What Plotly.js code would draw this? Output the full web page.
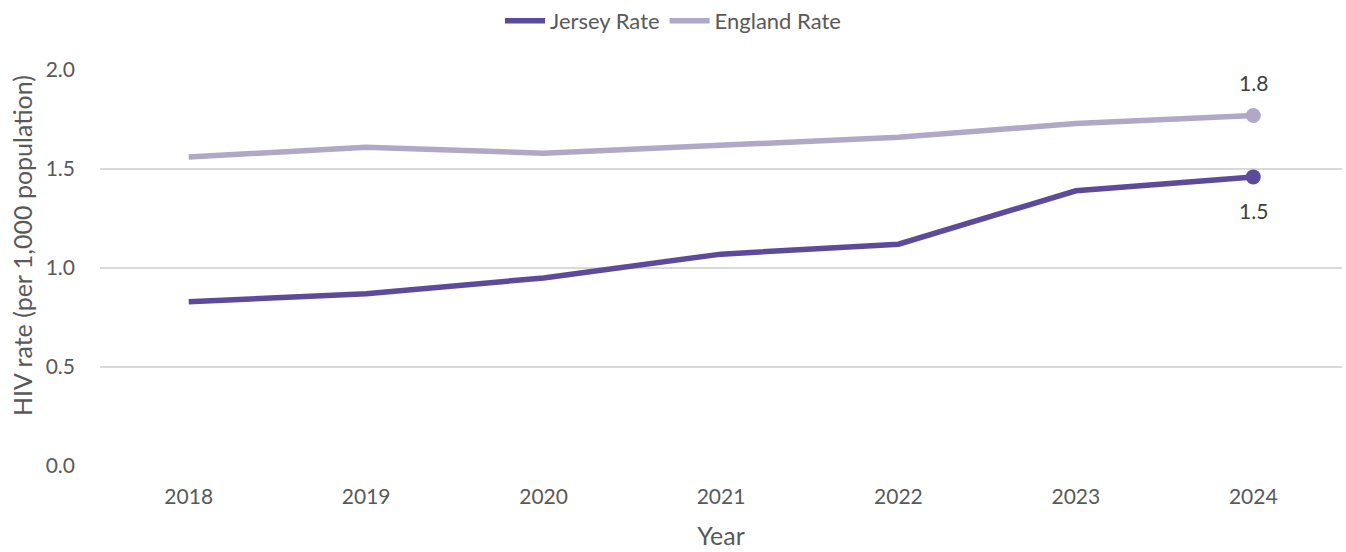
<!DOCTYPE html>
<html>
<head>
<meta charset="utf-8">
<script src="https://cdn.plot.ly/plotly-3.0.1.min.js"></script>
<style>html,body{margin:0;padding:0;background:#fff;}#chart{width:1346px;height:552px;}</style>
</head>
<body>
<div id="chart"></div>
<script>
const years = ['2018','2019','2020','2021','2022','2023','2024'];
const jerseyRate = [0.83, 0.87, 0.95, 1.07, 1.12, 1.39, 1.46];
const englandRate = [1.56, 1.61, 1.58, 1.62, 1.66, 1.73, 1.77];
const seriesNames = ['Jersey Rate', 'England Rate'];
const yTicks = [0, 0.5, 1.0, 1.5, 2.0];
const yTitle = 'HIV rate (per 1,000 population)';
const xTitle = 'Year';

const FONT = 'Lato, "Open Sans", sans-serif';
const TXT = '#595959';
const C_J = '#5E4A9B';
const C_E = '#B0A8C6';
const last = years.length - 1;

const traces = [
  {
    x: years, y: jerseyRate, name: seriesNames[0], type: 'scatter', mode: 'lines',
    line: {color: C_J, width: 5.5}
  },
  {
    x: years, y: englandRate, name: seriesNames[1], type: 'scatter', mode: 'lines',
    line: {color: C_E, width: 5.5}
  },
  {
    x: [years[last]], y: [jerseyRate[last]], type: 'scatter', mode: 'markers',
    showlegend: false, cliponaxis: false,
    marker: {color: C_J, size: 15, opacity: 1, line: {width: 0}}
  },
  {
    x: [years[last]], y: [englandRate[last]], type: 'scatter', mode: 'markers',
    showlegend: false, cliponaxis: false,
    marker: {color: C_E, size: 15, opacity: 1, line: {width: 0}}
  }
];

const layout = {
  width: 1346, height: 552,
  margin: {l: 100, r: 4, t: 70, b: 86},
  paper_bgcolor: '#fff', plot_bgcolor: '#fff',
  font: {family: FONT, size: 21, color: TXT},
  showlegend: true,
  legend: {
    orientation: 'h', x: 0.5, xanchor: 'center', y: 1.0, yanchor: 'top',
    xref: 'container', yref: 'container',
    font: {family: FONT, size: 22, color: TXT},
    itemwidth: 40, traceorder: 'normal', tracegroupgap: 0
  },
  annotations: [
    {xref: 'x', yref: 'y', x: last, y: englandRate[last], text: englandRate[last].toFixed(1),
     showarrow: false, yshift: 33, font: {family: FONT, size: 21, color: '#404040'}},
    {xref: 'x', yref: 'y', x: last, y: jerseyRate[last], text: jerseyRate[last].toFixed(1),
     showarrow: false, yshift: -34, font: {family: FONT, size: 21, color: '#404040'}},
    {xref: 'paper', yref: 'paper', x: 0, xshift: -78, xanchor: 'center',
     y: 0.5, yshift: 22, yanchor: 'middle',
     text: yTitle, textangle: -90, showarrow: false,
     font: {family: FONT, size: 25, color: TXT}}
  ],
  xaxis: {
    type: 'category', range: [-0.5, 6.5],
    showgrid: false, zeroline: false, showline: false,
    ticks: '', tickfont: {family: FONT, size: 21, color: TXT},
    ticklabelstandoff: 16,
    title: {text: xTitle, font: {family: FONT, size: 25, color: TXT}, standoff: 20}
  },
  yaxis: {
    range: [0, 2.0], tickvals: yTicks, ticktext: yTicks.map(v => v.toFixed(1)),
    showgrid: true, gridcolor: '#D9D9D9', gridwidth: 1.5,
    zeroline: false, showline: false, ticks: '',
    tickfont: {family: FONT, size: 21, color: TXT},
    ticklabelstandoff: 24
  }
};

Plotly.newPlot('chart', traces, layout, {displayModeBar: false, staticPlot: true});
</script>
</body>
</html>
